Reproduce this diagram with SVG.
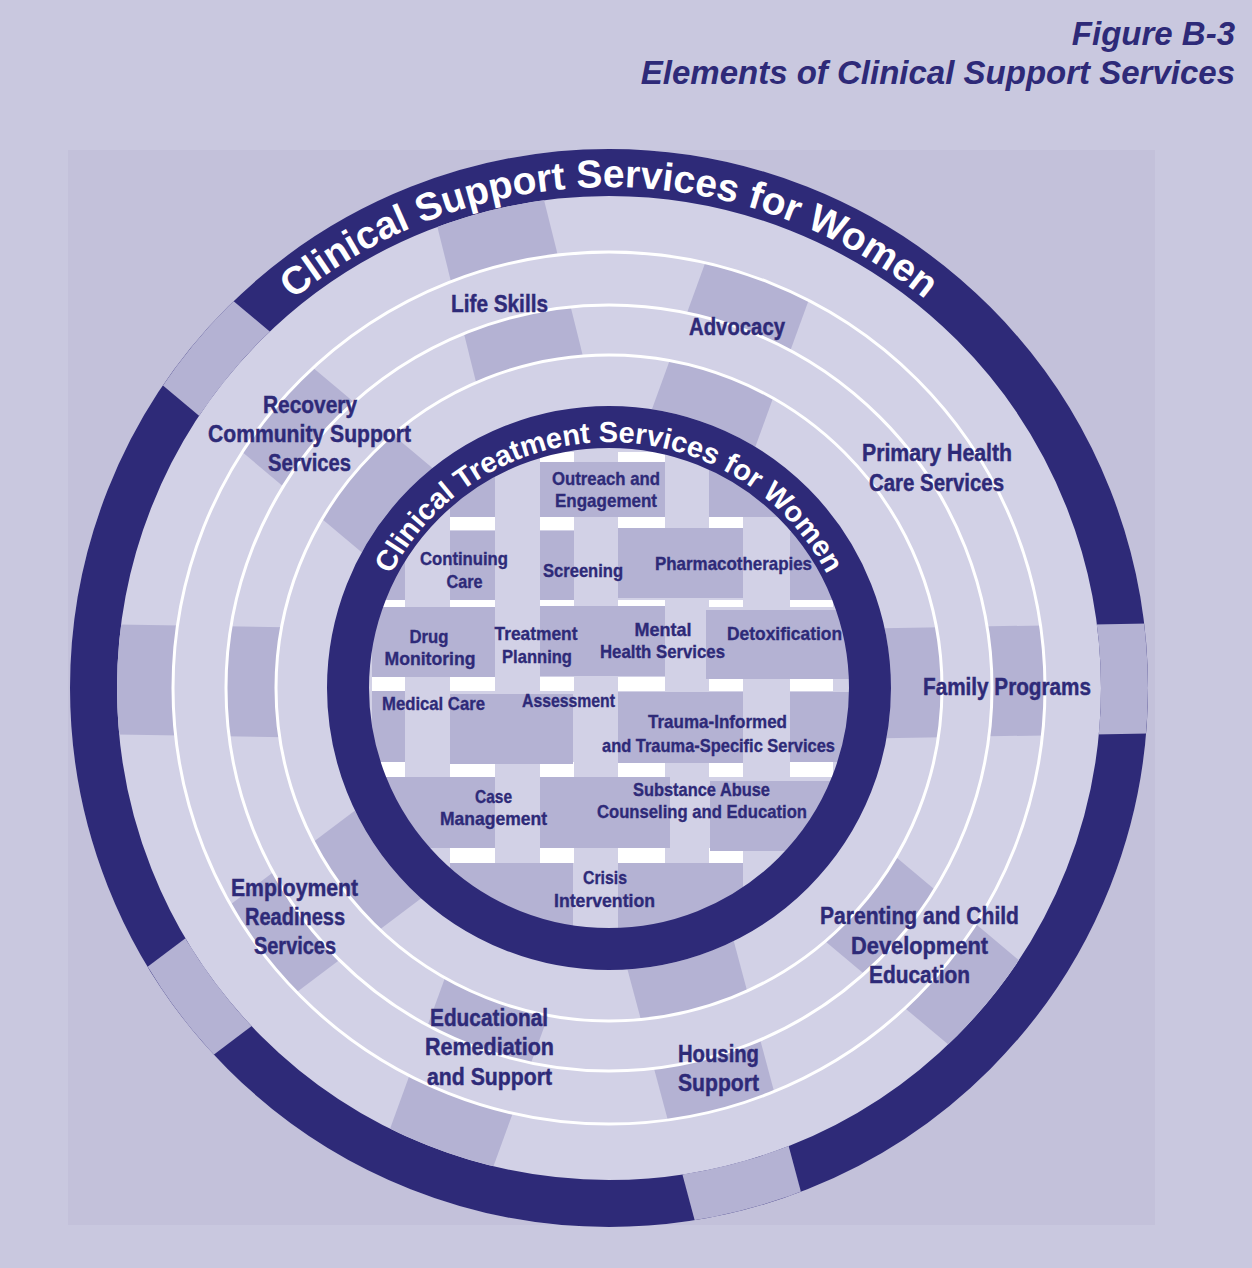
<svg xmlns="http://www.w3.org/2000/svg" xmlns:xlink="http://www.w3.org/1999/xlink" width="1252" height="1268" viewBox="0 0 1252 1268">
<style>
.lbl{font-family:"Liberation Sans",Arial,sans-serif;font-weight:bold;fill:#2e2a78;text-anchor:middle;stroke:#2e2a78;stroke-width:0.45px}
.o{font-size:24px}
.i{font-size:19px;stroke-width:0.35px}
.ring{font-family:"Liberation Sans",Arial,sans-serif;font-weight:bold;fill:#ffffff}
.ttl{font-family:"Liberation Sans",Arial,sans-serif;font-weight:bold;font-style:italic;fill:#2e2a78;font-size:33px;text-anchor:end}
.dk{fill:#b4b2d3}
.wh{fill:#ffffff}
.wl{fill:none;stroke:#ffffff;stroke-width:3}
</style>
<defs>
<rect id="spk" x="230" y="-55" width="340" height="110" fill="#b4b2d3"/>
<clipPath id="cOuter"><path clip-rule="evenodd" d="M70 688A539 539 0 1 0 1148 688A539 539 0 1 0 70 688Z M117 688A492 492 0 1 0 1101 688A492 492 0 1 0 117 688Z"/></clipPath>
<clipPath id="cA"><path clip-rule="evenodd" d="M117 688A492 492 0 1 0 1101 688A492 492 0 1 0 117 688Z M173 688A436 436 0 1 0 1045 688A436 436 0 1 0 173 688Z"/></clipPath>
<clipPath id="cB"><path clip-rule="evenodd" d="M173 688A436 436 0 1 0 1045 688A436 436 0 1 0 173 688Z M226 688A383 383 0 1 0 992 688A383 383 0 1 0 226 688Z"/></clipPath>
<clipPath id="cC"><path clip-rule="evenodd" d="M226 688A383 383 0 1 0 992 688A383 383 0 1 0 226 688Z M276 688A333 333 0 1 0 942 688A333 333 0 1 0 276 688Z"/></clipPath>
<clipPath id="cD"><path clip-rule="evenodd" d="M276 688A333 333 0 1 0 942 688A333 333 0 1 0 276 688Z M327 688A282 282 0 1 0 891 688A282 282 0 1 0 327 688Z"/></clipPath>
<clipPath id="cDisk"><circle cx="609" cy="688" r="242"/></clipPath>
<path id="pOuter" d="M108 688A501 501 0 0 1 1110 688"/>
<path id="pInner" d="M363 688A246 246 0 0 1 855 688"/>
</defs>

<rect x="0" y="0" width="1252" height="1268" fill="#c9c8df"/>
<rect x="68" y="150" width="1087" height="1075" fill="#c3c1da"/>

<g id="title">
<text class="ttl" x="1235" y="45">Figure B-3</text>
<text class="ttl" x="1235" y="84">Elements of Clinical Support Services</text>
</g>

<g id="rings">
<circle cx="609" cy="688" r="539" fill="#d2d1e6"/>
<circle cx="609" cy="688" r="515.5" fill="none" stroke="#2e2a78" stroke-width="47"/>
</g>

<g id="spokes">
<g clip-path="url(#cOuter)">
<use xlink:href="#spk" transform="translate(609 688) rotate(-1)"/>
<use xlink:href="#spk" transform="translate(609 688) rotate(-140)"/>
<use xlink:href="#spk" transform="translate(609 688) rotate(-217)"/>
<use xlink:href="#spk" transform="translate(609 688) rotate(-285)"/>
</g>
<g clip-path="url(#cA)">
<use xlink:href="#spk" transform="translate(609 688) rotate(-104)"/>
<use xlink:href="#spk" transform="translate(609 688) rotate(-179)"/>
<use xlink:href="#spk" transform="translate(609 688) rotate(-250)"/>
<use xlink:href="#spk" transform="translate(609 688) rotate(-320)"/>
</g>
<g clip-path="url(#cB)">
<use xlink:href="#spk" transform="translate(609 688) rotate(-1)"/>
<use xlink:href="#spk" transform="translate(609 688) rotate(-70)"/>
<use xlink:href="#spk" transform="translate(609 688) rotate(-140)"/>
<use xlink:href="#spk" transform="translate(609 688) rotate(-217)"/>
<use xlink:href="#spk" transform="translate(609 688) rotate(-285)"/>
</g>
<g clip-path="url(#cC)">
<use xlink:href="#spk" transform="translate(609 688) rotate(-104)"/>
<use xlink:href="#spk" transform="translate(609 688) rotate(-179)"/>
<use xlink:href="#spk" transform="translate(609 688) rotate(-250)"/>
<use xlink:href="#spk" transform="translate(609 688) rotate(-320)"/>
</g>
<g clip-path="url(#cD)">
<use xlink:href="#spk" transform="translate(609 688) rotate(-1)"/>
<use xlink:href="#spk" transform="translate(609 688) rotate(-70)"/>
<use xlink:href="#spk" transform="translate(609 688) rotate(-140)"/>
<use xlink:href="#spk" transform="translate(609 688) rotate(-217)"/>
<use xlink:href="#spk" transform="translate(609 688) rotate(-285)"/>
</g>
</g>

<g id="white-circles">
<circle class="wl" cx="609" cy="688" r="436"/>
<circle class="wl" cx="609" cy="688" r="383"/>
<circle class="wl" cx="609" cy="688" r="333"/>
</g>

<g id="core-grid" clip-path="url(#cDisk)">
<g class="wh">
<rect x="450" y="452" width="45" height="10"/><rect x="540" y="452" width="34" height="10"/><rect x="618" y="452" width="47" height="10"/><rect x="709" y="452" width="34" height="10"/>
<rect x="450" y="517" width="45" height="13"/><rect x="540" y="517" width="34" height="13"/><rect x="618" y="517" width="47" height="13"/><rect x="709" y="517" width="34" height="13"/>
<rect x="372" y="600" width="33" height="7"/><rect x="450" y="600" width="45" height="7"/><rect x="540" y="600" width="34" height="7"/><rect x="618" y="600" width="47" height="7"/><rect x="709" y="600" width="34" height="7"/><rect x="790" y="600" width="43" height="7"/>
<rect x="372" y="677" width="33" height="14"/><rect x="450" y="677" width="45" height="14"/><rect x="540" y="677" width="34" height="14"/><rect x="618" y="677" width="47" height="14"/><rect x="709" y="677" width="34" height="14"/><rect x="790" y="677" width="43" height="14"/>
<rect x="372" y="762" width="33" height="15"/><rect x="450" y="762" width="45" height="15"/><rect x="540" y="762" width="34" height="15"/><rect x="618" y="762" width="47" height="15"/><rect x="709" y="762" width="34" height="15"/><rect x="790" y="762" width="43" height="15"/>
<rect x="372" y="848" width="33" height="15"/><rect x="450" y="848" width="45" height="15"/><rect x="540" y="848" width="34" height="15"/><rect x="618" y="848" width="47" height="15"/><rect x="709" y="848" width="34" height="15"/><rect x="790" y="848" width="43" height="15"/>
</g>
<g class="dk">
<rect x="450" y="462" width="45" height="55"/><rect x="540" y="462" width="125" height="55"/><rect x="709" y="465" width="124" height="52"/>
<rect x="372" y="530" width="33" height="70"/><rect x="450" y="531" width="45" height="69"/><rect x="540" y="531" width="34" height="69"/><rect x="618" y="528" width="125" height="70"/><rect x="790" y="532" width="43" height="68"/>
<rect x="372" y="607" width="123" height="70"/><rect x="540" y="606" width="125" height="70"/><rect x="706" y="610" width="144" height="69"/>
<rect x="372" y="691" width="33" height="71"/><rect x="450" y="694" width="123" height="70"/><rect x="618" y="692" width="125" height="71"/><rect x="790" y="692" width="60" height="70"/>
<rect x="372" y="777" width="123" height="71"/><rect x="540" y="777" width="130" height="71"/><rect x="710" y="781" width="140" height="70"/>
<rect x="450" y="863" width="123" height="70"/><rect x="618" y="863" width="125" height="70"/>
</g>
</g>

<g id="inner-ring">
<circle cx="609" cy="688" r="261" fill="none" stroke="#2e2a78" stroke-width="42"/>
<text class="ring" font-size="29"><textPath xlink:href="#pInner" startOffset="50%" text-anchor="middle">Clinical Treatment Services for Women</textPath></text>
</g>

<g id="outer-ring-title">
<text class="ring" font-size="39"><textPath xlink:href="#pOuter" startOffset="50%" text-anchor="middle">Clinical Support Services for Women</textPath></text>
</g>

<g id="outer-labels" class="lbl o">
<g id="n-life-skills"><text x="499.5" y="312" textLength="97" lengthAdjust="spacingAndGlyphs">Life Skills</text></g>
<g id="n-advocacy"><text x="737" y="335" textLength="96" lengthAdjust="spacingAndGlyphs">Advocacy</text></g>
<g id="n-recovery"><text x="310" y="413" textLength="94" lengthAdjust="spacingAndGlyphs">Recovery</text><text x="309.5" y="442" textLength="203" lengthAdjust="spacingAndGlyphs">Community Support</text><text x="309.5" y="471" textLength="83" lengthAdjust="spacingAndGlyphs">Services</text></g>
<g id="n-primary"><text x="937" y="461" textLength="150" lengthAdjust="spacingAndGlyphs">Primary Health</text><text x="936.5" y="491" textLength="135" lengthAdjust="spacingAndGlyphs">Care Services</text></g>
<g id="n-family"><text x="1007" y="695" textLength="168" lengthAdjust="spacingAndGlyphs">Family Programs</text></g>
<g id="n-employment"><text x="294.5" y="896" textLength="127" lengthAdjust="spacingAndGlyphs">Employment</text><text x="295" y="925" textLength="100" lengthAdjust="spacingAndGlyphs">Readiness</text><text x="295" y="954" textLength="82" lengthAdjust="spacingAndGlyphs">Services</text></g>
<g id="n-educational"><text x="489" y="1026" textLength="118" lengthAdjust="spacingAndGlyphs">Educational</text><text x="489.5" y="1055" textLength="129" lengthAdjust="spacingAndGlyphs">Remediation</text><text x="489.5" y="1085" textLength="125" lengthAdjust="spacingAndGlyphs">and Support</text></g>
<g id="n-housing"><text x="718.5" y="1062" textLength="81" lengthAdjust="spacingAndGlyphs">Housing</text><text x="718.5" y="1091" textLength="81" lengthAdjust="spacingAndGlyphs">Support</text></g>
<g id="n-parenting"><text x="919.5" y="924" textLength="199" lengthAdjust="spacingAndGlyphs">Parenting and Child</text><text x="919.5" y="954" textLength="137" lengthAdjust="spacingAndGlyphs">Development</text><text x="919.5" y="983" textLength="101" lengthAdjust="spacingAndGlyphs">Education</text></g>
</g>

<g id="inner-labels" class="lbl i">
<g id="n-outreach"><text x="606" y="485" textLength="108" lengthAdjust="spacingAndGlyphs">Outreach and</text><text x="606" y="507" textLength="102" lengthAdjust="spacingAndGlyphs">Engagement</text></g>
<g id="n-continuing"><text x="464" y="565" textLength="88" lengthAdjust="spacingAndGlyphs">Continuing</text><text x="464.5" y="588" textLength="36" lengthAdjust="spacingAndGlyphs">Care</text></g>
<g id="n-screening"><text x="583" y="577" textLength="80" lengthAdjust="spacingAndGlyphs">Screening</text></g>
<g id="n-pharma"><text x="733.5" y="570" textLength="157" lengthAdjust="spacingAndGlyphs">Pharmacotherapies</text></g>
<g id="n-drug"><text x="429" y="643" textLength="39" lengthAdjust="spacingAndGlyphs">Drug</text><text x="430" y="665" textLength="91" lengthAdjust="spacingAndGlyphs">Monitoring</text></g>
<g id="n-treatment"><text x="536" y="640" textLength="83" lengthAdjust="spacingAndGlyphs">Treatment</text><text x="537" y="663" textLength="70" lengthAdjust="spacingAndGlyphs">Planning</text></g>
<g id="n-mental"><text x="663" y="636" textLength="57" lengthAdjust="spacingAndGlyphs">Mental</text><text x="662.5" y="658" textLength="125" lengthAdjust="spacingAndGlyphs">Health Services</text></g>
<g id="n-detox"><text x="784.5" y="640" textLength="115" lengthAdjust="spacingAndGlyphs">Detoxification</text></g>
<g id="n-medical"><text x="433.5" y="710" textLength="103" lengthAdjust="spacingAndGlyphs">Medical Care</text></g>
<g id="n-assessment"><text x="568.5" y="707" textLength="93" lengthAdjust="spacingAndGlyphs">Assessment</text></g>
<g id="n-trauma"><text x="717.5" y="728" textLength="139" lengthAdjust="spacingAndGlyphs">Trauma-Informed</text><text x="718.5" y="752" textLength="233" lengthAdjust="spacingAndGlyphs">and Trauma-Specific Services</text></g>
<g id="n-case"><text x="493.5" y="803" textLength="37" lengthAdjust="spacingAndGlyphs">Case</text><text x="493.5" y="825" textLength="107" lengthAdjust="spacingAndGlyphs">Management</text></g>
<g id="n-substance"><text x="701.5" y="796" textLength="137" lengthAdjust="spacingAndGlyphs">Substance Abuse</text><text x="702" y="818" textLength="210" lengthAdjust="spacingAndGlyphs">Counseling and Education</text></g>
<g id="n-crisis"><text x="605" y="884" textLength="44" lengthAdjust="spacingAndGlyphs">Crisis</text><text x="604.5" y="907" textLength="101" lengthAdjust="spacingAndGlyphs">Intervention</text></g>
</g>
</svg>
